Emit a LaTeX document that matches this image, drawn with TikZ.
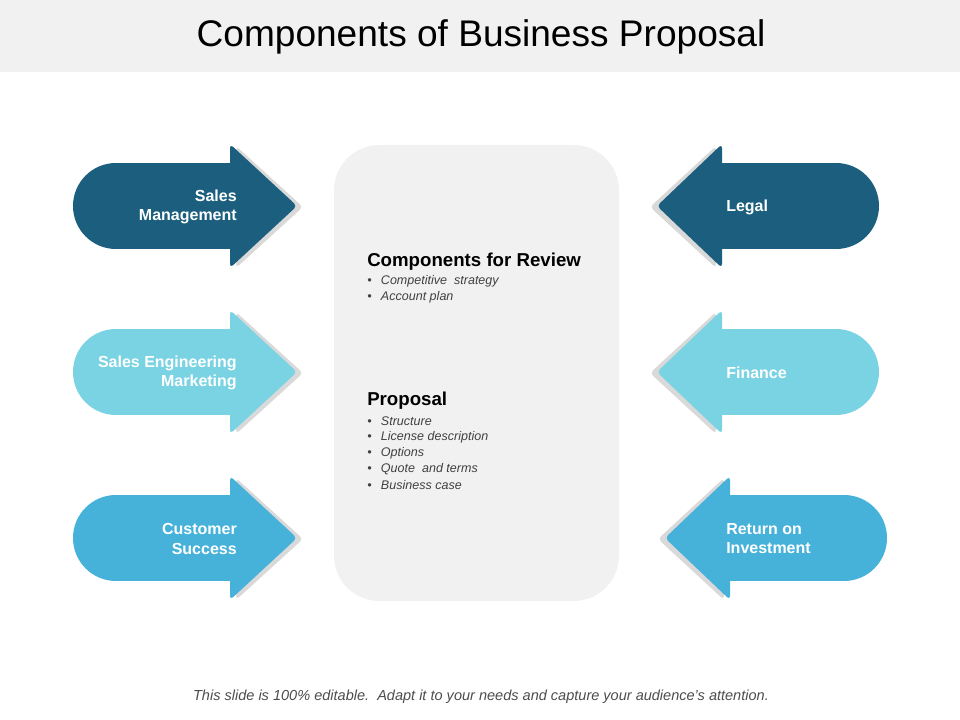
\documentclass[tikz,border=0pt]{standalone}
\usepackage{fontspec}
\setmainfont{Liberation Sans}
\definecolor{darkblue}{HTML}{1B5E7E}
\definecolor{lightblue}{HTML}{79D3E3}
\definecolor{midblue}{HTML}{46B2DA}
\definecolor{panelgray}{HTML}{F1F1F1}
\definecolor{shadowgray}{HTML}{D9D9D9}
\tikzset{
  lbl/.style={text=white,font=\fontsize{12}{14.3}\selectfont\bfseries,inner sep=0pt},
  bul/.style={anchor=west,text=black!75,font=\fontsize{9.4}{11}\selectfont\itshape,inner sep=0pt},
  head/.style={anchor=west,font=\fontsize{14}{16}\selectfont\bfseries,inner sep=0pt}
}
\begin{document}
\begin{tikzpicture}[x=0.75pt,y=-0.75pt,line join=round]
  \useasboundingbox (0,0) rectangle (960,720);
  \fill[panelgray] (0,0) rectangle (960,72);
  \node[font=\fontsize{27.8}{32}\selectfont] (title) at (481,37) {Components of Business Proposal};
  % centre panel
  \fill[panelgray,rounded corners=34pt] (334,145) rectangle (619,601);
  % left arrows
  \foreach \c/\col/\txt [count=\i] in {206/darkblue/{Sales\\Management},372/lightblue/{Sales Engineering\\Marketing},538/midblue/{Customer\\Success}}{
    \fill[shadowgray,rounded corners=3pt] (236,\c-60) -- (303,\c+1) -- (236,\c+62) -- cycle;
    \fill[\col] (116,\c) circle[radius=43];
    \fill[\col] (116,\c-43) rectangle (236,\c+43);
    \fill[\col,rounded corners=3pt] (230,\c-62) -- (297,\c) -- (230,\c+62) -- cycle;
    \node[lbl,anchor=east,align=right] (left\i) at (237,\c+1) {\txt};
  }
  % right arrows
  \foreach \c/\col/\txt/\d [count=\i] in {206/darkblue/{Legal}/0,372/lightblue/{Finance}/0,538/midblue/{Return on\\Investment}/8}{
    \fill[shadowgray,rounded corners=3pt] (716+\d,\c-60) -- (650+\d,\c+1) -- (716+\d,\c+62) -- cycle;
    \fill[\col] (836+\d,\c) circle[radius=43];
    \fill[\col] (716+\d,\c-43) rectangle (836+\d,\c+43);
    \fill[\col,rounded corners=3pt] (722+\d,\c-62) -- (657+\d,\c) -- (722+\d,\c+62) -- cycle;
    \node[lbl,anchor=west,align=left] (right\i) at (726,\c+1) {\txt};
  }
  % panel text
  \node[head] (review) at (367,262) {Components for Review};
  \foreach \t [count=\i] in {Competitive\ \ strategy,Account plan}
    \node[bul] (rev\i) at (367,281+16*\i-16) {\textbullet\hspace{7pt}\t};
  \node[head] (proposal) at (367,401) {Proposal};
  \foreach \t [count=\i] in {Structure,License description,Options,Quote\ \ and terms,Business case}
    \node[bul] (prop\i) at (367,421+16*\i-16) {\textbullet\hspace{7pt}\t};
  \node[font=\fontsize{10.9}{12}\selectfont\itshape,text=black!70] (footer) at (481,697) {This slide is 100\% editable.\ \ Adapt it to your needs and capture your audience's attention.};
\end{tikzpicture}
\end{document}
